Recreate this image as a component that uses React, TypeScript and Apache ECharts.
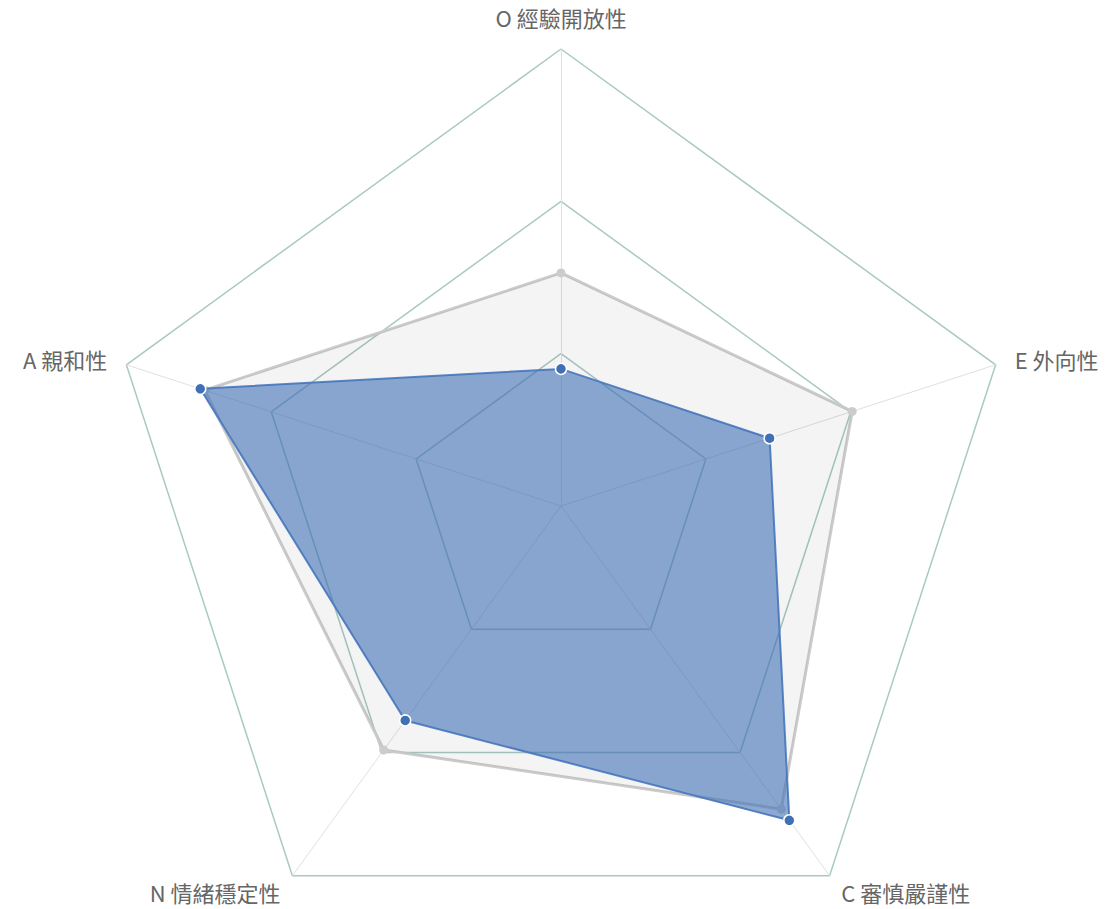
import React, { useEffect, useRef } from "react";
import * as echarts from "echarts";

// Order goes counter-clockwise from top, as ECharts draws it
const indicators = ["O 經驗開放性", "A 親和性", "N 情緒穩定性", "C 審慎嚴謹性", "E 外向性"];
const maxValue = 100;
const referenceValues = [51, 82, 66, 82, 67];
const personValues = [30, 83, 58, 85, 48];

export default function App() {
  const ref = useRef<HTMLDivElement>(null);
  useEffect(() => {
    if (!ref.current) return;
    const chart = echarts.init(ref.current, null, { renderer: "svg" });
    chart.setOption({
      animation: false,
      radar: {
        center: [561, 506],
        radius: 457,
        startAngle: 90,
        splitNumber: 3,
        shape: "polygon",
        indicator: indicators.map((name) => ({ name, max: maxValue })),
        axisName: {
          color: "#666",
          fontSize: 22,
          lineHeight: 24,
          fontFamily: "'Noto Sans CJK TC', sans-serif",
        },
        nameGap: 20,
        splitLine: { lineStyle: { color: "#a9c9c4", width: 1.5 } },
        splitArea: { show: false },
        axisLine: { lineStyle: { color: "#e0e0e0", width: 1 } },
      },
      series: [
        {
          type: "radar",
          z: 2,
          data: [
            {
              value: referenceValues,
              symbol: "circle",
              symbolSize: 9,
              itemStyle: { color: "#cccccc" },
              lineStyle: { color: "#cccccc", width: 3 },
              areaStyle: { color: "rgba(0,0,0,0.06)" },
            },
          ],
        },
        {
          type: "radar",
          z: 3,
          data: [
            {
              value: personValues,
              symbol: "circle",
              symbolSize: 11,
              itemStyle: { color: "#3f6fb5", borderColor: "#fff", borderWidth: 1.5 },
              lineStyle: { color: "#5b86c5", width: 2 },
              areaStyle: { color: "#3f6fb5", opacity: 0.6 },
            },
          ],
        },
      ],
    });
    return () => chart.dispose();
  }, []);
  return (
    <div
      ref={ref}
      style={{ position: "absolute", left: 0, top: 0, width: 1117, height: 909, background: "#fff" }}
    />
  );
}
